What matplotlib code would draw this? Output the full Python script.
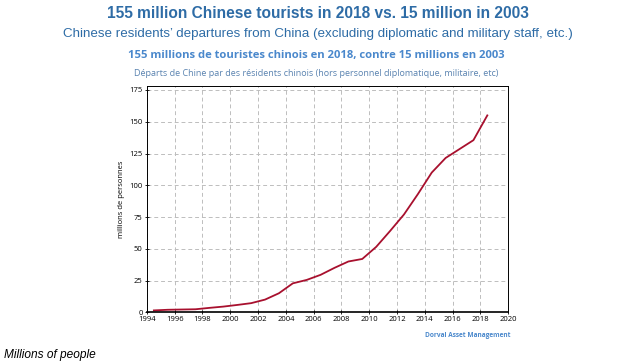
import matplotlib
matplotlib.use("Agg")
import matplotlib.pyplot as plt
import numpy as np

# annual departures (millions), plotted mid-year
years = [1994, 1995, 1996, 1997, 1998, 1999, 2000, 2001, 2002, 2003, 2004, 2005,
         2006, 2007, 2008, 2009, 2010, 2011, 2012, 2013, 2014, 2015, 2016, 2017, 2018]
departures = [1.5, 2.0, 2.2, 2.4, 3.5, 4.5, 5.8, 7.2, 10.0, 15.0, 22.8, 25.5,
              29.5, 35.0, 40.0, 42.0, 51.5, 64.0, 77.0, 93.0, 110.0, 121.5, 128.5, 135.5, 155.0]
x_ticks = list(range(1994, 2021, 2))
y_ticks = list(range(0, 176, 25))

BLUE = "#2e6ca6"
LIGHT_BLUE = "#4a88cc"
GREY_BLUE = "#5a83b0"
RED = "#a8102e"

fig = plt.figure(figsize=(6.36, 3.64), dpi=100)
ax = fig.add_axes([0.231, 0.142, 0.568, 0.623])

ax.plot(np.array(years) + 0.5, departures, color=RED, lw=1.3)

ax.set_xlim(1994, 2020)
ax.set_ylim(0, 178.5)
ax.set_xticks(x_ticks)
ax.set_yticks(y_ticks)
ax.grid(True, color="#bdbdbd", ls=(0, (4, 3)), lw=0.7)
ax.tick_params(labelsize=5.5, length=3, width=0.6, pad=1.5, direction="inout")
for lab in ax.get_xticklabels() + ax.get_yticklabels():
    lab.set_family("Open Sans")
for s in ax.spines.values():
    s.set_linewidth(0.7)
ax.spines["bottom"].set_linewidth(1.2)
ax.set_ylabel("millions de personnes", fontsize=5.5, family="Open Sans", labelpad=3)

fig.text(0.5, 0.963, "155 million Chinese tourists in 2018 vs. 15 million in 2003",
         ha="center", va="center", fontsize=11.2, fontweight="bold", color=BLUE,
         family="Liberation Sans")
fig.text(0.5, 0.907, "Chinese residents\u2019 departures from China (excluding diplomatic and military staff, etc.)",
         ha="center", va="center", fontsize=9.6, color=BLUE, family="Liberation Sans")
fig.text(0.497, 0.847, "155 millions de touristes chinois en 2018, contre 15 millions en 2003",
         ha="center", va="center", fontsize=8.1, fontweight="bold", color=LIGHT_BLUE,
         family="Open Sans")
fig.text(0.497, 0.797, "D\u00e9parts de Chine par des r\u00e9sidents chinois (hors personnel diplomatique, militaire, etc)",
         ha="center", va="center", fontsize=6.45, color=GREY_BLUE, family="Open Sans")
fig.text(0.802, 0.079, "Dorval Asset Management", ha="right", va="center",
         fontsize=4.7, fontweight="bold", color=LIGHT_BLUE, family="Open Sans")
fig.text(0.006, 0.025, "Millions of people", ha="left", va="center",
         fontsize=8.6, style="italic", color="black", family="Liberation Sans")

fig.savefig("out.png", dpi=100)
